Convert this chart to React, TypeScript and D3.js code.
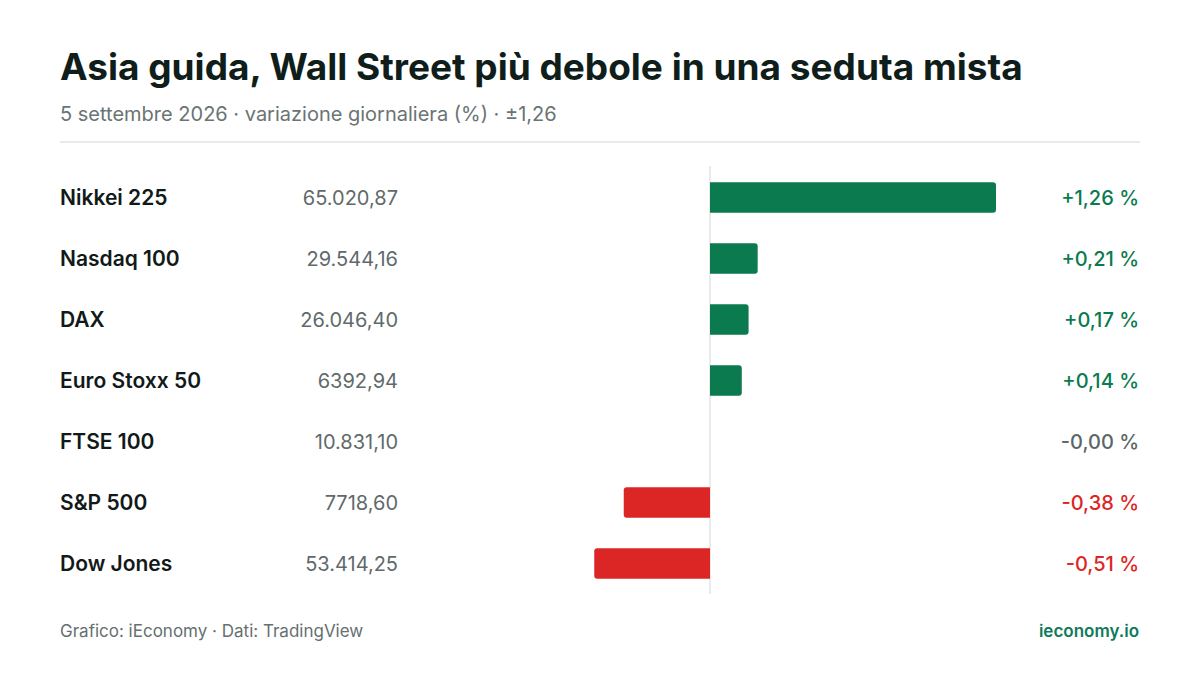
import { useRef, useEffect } from "react";
import * as d3 from "d3";

const names = ["Nikkei 225", "Nasdaq 100", "DAX", "Euro Stoxx 50", "FTSE 100", "S&P 500", "Dow Jones"];
const levels = ["65.020,87", "29.544,16", "26.046,40", "6392,94", "10.831,10", "7718,60", "53.414,25"];
const changes = [1.26, 0.21, 0.17, 0.14, -0.001, -0.38, -0.51];
const changeLabels = ["+1,26 %", "+0,21 %", "+0,17 %", "+0,14 %", "-0,00 %", "-0,38 %", "-0,51 %"];
const extent = 1.26;

const GREEN = "#0b7a4f";
const RED = "#dc2626";
const GREY = "#5b6767";
const FONT = "Inter, 'Noto Sans', sans-serif";

export default function App() {
  const ref = useRef<SVGSVGElement>(null);
  useEffect(() => {
    document.body.style.margin = "0";
    if (!ref.current) return;
    const svg = d3.select(ref.current);
    svg.selectAll("*").remove();
    const W = 1200, H = 675;
    svg.attr("width", W).attr("height", H).attr("font-family", FONT);
    svg.append("rect").attr("width", W).attr("height", H).attr("fill", "#fff");

    svg.append("text").attr("x", 60).attr("y", 80).attr("font-size", 37).attr("font-weight", 700)
      .attr("fill", "#0f1d1b").text("Asia guida, Wall Street più debole in una seduta mista");
    svg.append("text").attr("x", 60).attr("y", 121).attr("font-size", 20).attr("fill", "#6a7474")
      .text("5 settembre 2026 · variazione giornaliera (%) · ±1,26");
    svg.append("line").attr("x1", 60).attr("x2", 1140).attr("y1", 142).attr("y2", 142)
      .attr("stroke", "#e1e4e4").attr("stroke-width", 1.5);

    const x = d3.scaleLinear().domain([-extent, extent]).range([424, 996]);
    const y = d3.scaleBand().domain(names).range([167, 594]).paddingInner(0.5).paddingOuter(0.25);
    const x0 = x(0);

    svg.append("line").attr("x1", x0).attr("x2", x0).attr("y1", 166).attr("y2", 594)
      .attr("stroke", "#e3e6e6").attr("stroke-width", 1.5);

    const r = 3;
    const barPath = (v: number, top: number, h: number) => {
      const xe = x(v);
      const w = Math.abs(xe - x0);
      if (w < 0.5) return "";
      const rr = Math.min(r, w);
      const s = v >= 0 ? 1 : -1;
      return `M${x0},${top} H${xe - s * rr} Q${xe},${top} ${xe},${top + rr} V${top + h - rr} Q${xe},${top + h} ${xe - s * rr},${top + h} H${x0} Z`;
    };

    const rows = names.map((n, i) => ({ n, level: levels[i], v: changes[i], label: changeLabels[i] }));
    const colorOf = (v: number) => (v > 0.005 ? GREEN : v < -0.005 ? RED : GREY);

    svg.selectAll(".bar").data(rows).join("path").attr("class", "bar")
      .attr("d", d => barPath(d.v, y(d.n)!, y.bandwidth()))
      .attr("fill", d => colorOf(d.v));

    const cy = (d: { n: string }) => y(d.n)! + y.bandwidth() / 2 + 7;
    svg.selectAll(".name").data(rows).join("text").attr("class", "name")
      .attr("x", 60).attr("y", cy).attr("font-size", 21).attr("font-weight", 600)
      .attr("fill", "#111a19").text(d => d.n);
    svg.selectAll(".level").data(rows).join("text").attr("class", "level")
      .attr("x", 398).attr("y", cy).attr("text-anchor", "end").attr("font-size", 20)
      .attr("fill", "#5f6a6a").text(d => d.level);
    svg.selectAll(".chg").data(rows).join("text").attr("class", "chg")
      .attr("x", 1139).attr("y", cy).attr("text-anchor", "end").attr("font-size", 20).attr("font-weight", 500)
      .attr("fill", d => colorOf(d.v)).text(d => d.label);

    svg.append("text").attr("x", 60).attr("y", 637).attr("font-size", 17).attr("fill", "#65706f")
      .text("Grafico: iEconomy · Dati: TradingView");
    svg.append("text").attr("x", 1139).attr("y", 637).attr("text-anchor", "end").attr("font-size", 17)
      .attr("font-weight", 600).attr("fill", "#0e7a5c").text("ieconomy.io");
  }, []);

  return <svg ref={ref} style={{ display: "block" }} />;
}
